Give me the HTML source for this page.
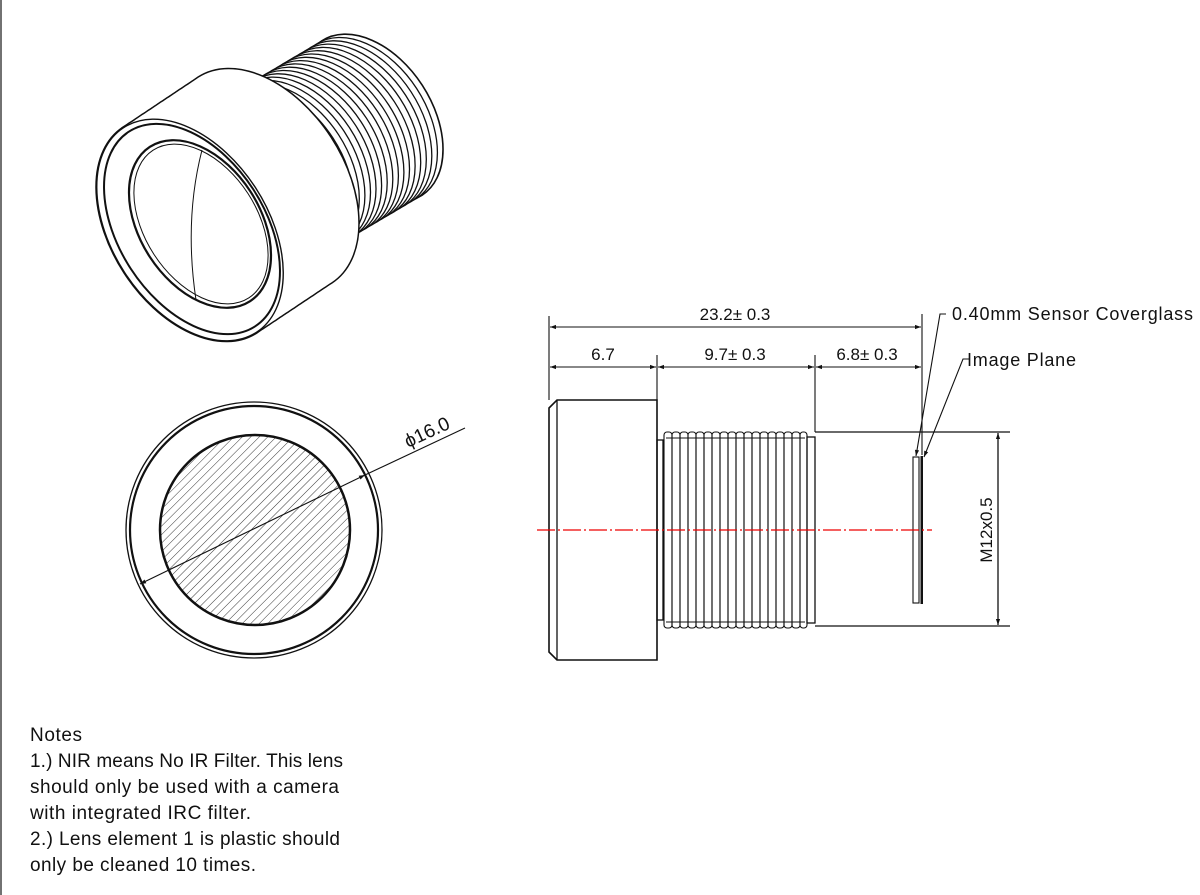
<!DOCTYPE html>
<html><head><meta charset="utf-8"><style>
html,body{margin:0;padding:0;background:#fff}
svg{display:block}
text{font-family:"Liberation Sans",sans-serif;fill:#111}
</style></head><body>
<svg width="1200" height="895" viewBox="0 0 1200 895" xmlns="http://www.w3.org/2000/svg" xmlns:xlink="http://www.w3.org/1999/xlink">
<defs>
<marker id="ar" viewBox="0 0 10 10" refX="10" refY="5" markerWidth="10" markerHeight="6" orient="auto-start-reverse" markerUnits="userSpaceOnUse"><path d="M0,1.5 L10,5 L0,8.5 z" fill="#111"/></marker>
<pattern id="hatch" patternUnits="userSpaceOnUse" width="6" height="6" patternTransform="rotate(45)"><line x1="0" y1="0" x2="0" y2="6" stroke="#222" stroke-width="0.9"/></pattern>
<clipPath id="cc"><circle cx="255" cy="530" r="95"/></clipPath>
<ellipse id="te" cx="0" cy="0" rx="60" ry="92" transform="rotate(-33)"/>
<ellipse id="be" cx="0" cy="0" rx="78" ry="122" transform="rotate(-33)"/>
</defs>
<line x1="1" y1="0" x2="1" y2="895" stroke="#444" stroke-width="1.5"/>

<!-- ISO VIEW threads (back to front) -->
<g fill="#fff" stroke="#111" stroke-width="1.3">
<use xlink:href="#te" transform="translate(372,118)" stroke-width="1.6"/>
<use xlink:href="#te" transform="translate(366.4,121.3)"/>
<use xlink:href="#te" transform="translate(360.8,124.6)"/>
<use xlink:href="#te" transform="translate(355.3,127.9)"/>
<use xlink:href="#te" transform="translate(349.7,131.2)"/>
<use xlink:href="#te" transform="translate(344.1,134.5)"/>
<use xlink:href="#te" transform="translate(338.5,137.8)"/>
<use xlink:href="#te" transform="translate(332.9,141.1)"/>
<use xlink:href="#te" transform="translate(327.4,144.4)"/>
<use xlink:href="#te" transform="translate(321.8,147.7)"/>
<use xlink:href="#te" transform="translate(316.2,151)"/>
<use xlink:href="#te" transform="translate(310.6,154.3)"/>
<use xlink:href="#te" transform="translate(305,157.6)"/>
<use xlink:href="#te" transform="translate(299.5,160.9)"/>
<use xlink:href="#te" transform="translate(293.9,164.2)"/>
<use xlink:href="#te" transform="translate(288.3,167.5)"/>
<use xlink:href="#te" transform="translate(282.7,170.8)"/>
<use xlink:href="#te" transform="translate(277.1,174.1)"/>
<use xlink:href="#te" transform="translate(271.6,177.4)"/>
</g>
<!-- body sweep -->
<g fill="#fff" stroke="#111" stroke-width="3">
<use xlink:href="#be" transform="translate(190,230)"/>
<use xlink:href="#be" transform="translate(196.25,225.83)"/>
<use xlink:href="#be" transform="translate(202.5,221.67)"/>
<use xlink:href="#be" transform="translate(208.75,217.5)"/>
<use xlink:href="#be" transform="translate(215,213.33)"/>
<use xlink:href="#be" transform="translate(221.25,209.17)"/>
<use xlink:href="#be" transform="translate(227.5,205)"/>
<use xlink:href="#be" transform="translate(233.75,200.83)"/>
<use xlink:href="#be" transform="translate(240,196.67)"/>
<use xlink:href="#be" transform="translate(246.25,192.5)"/>
<use xlink:href="#be" transform="translate(252.5,188.33)"/>
<use xlink:href="#be" transform="translate(258.75,184.17)"/>
<use xlink:href="#be" transform="translate(265,180)"/>
</g>
<g fill="#fff" stroke="none">
<use xlink:href="#be" transform="translate(190,230)"/>
<use xlink:href="#be" transform="translate(196.25,225.83)"/>
<use xlink:href="#be" transform="translate(202.5,221.67)"/>
<use xlink:href="#be" transform="translate(208.75,217.5)"/>
<use xlink:href="#be" transform="translate(215,213.33)"/>
<use xlink:href="#be" transform="translate(221.25,209.17)"/>
<use xlink:href="#be" transform="translate(227.5,205)"/>
<use xlink:href="#be" transform="translate(233.75,200.83)"/>
<use xlink:href="#be" transform="translate(240,196.67)"/>
<use xlink:href="#be" transform="translate(246.25,192.5)"/>
<use xlink:href="#be" transform="translate(252.5,188.33)"/>
<use xlink:href="#be" transform="translate(258.75,184.17)"/>
<use xlink:href="#be" transform="translate(265,180)"/>
</g>
<g fill="none" stroke="#111" stroke-width="1.4">
<use xlink:href="#be" transform="translate(190,230)"/>
<ellipse cx="192" cy="229" rx="73" ry="116" transform="rotate(-33 192 229)" stroke-width="2"/>
<ellipse cx="200" cy="224" rx="60" ry="92" transform="rotate(-33 200 224)" stroke-width="2.2"/>
<ellipse cx="201" cy="224" rx="56" ry="88" transform="rotate(-33 201 224)" stroke-width="1"/>
<path d="M202,150 Q184,220 196,300" stroke-width="1"/>
</g>

<!-- FRONT VIEW -->
<g fill="none" stroke="#111">
<circle cx="254" cy="530" r="128" stroke-width="1.3"/>
<circle cx="254" cy="530" r="124" stroke-width="2.2"/>
<rect x="150" y="425" width="210" height="210" fill="url(#hatch)" clip-path="url(#cc)" stroke="none"/>
<circle cx="255" cy="530" r="95" stroke-width="2.5"/>
<line x1="140" y1="584" x2="365" y2="475" stroke-width="1.1" marker-start="url(#ar)" marker-end="url(#ar)"/>
<line x1="365" y1="475" x2="465" y2="428" stroke-width="1.1"/>
</g>
<text x="408" y="448" font-size="19" transform="rotate(-25 408 448)">ϕ16.0</text>

<!-- SIDE VIEW -->
<g fill="none" stroke="#111" stroke-width="1.3">
<path d="M557,400 L657,400 L657,660 L557,660 L549,652 L549,408 Z" fill="#fff" stroke-width="1.6"/>
<line x1="557" y1="400" x2="557" y2="660"/>
<rect x="657" y="440" width="6" height="180"/>
<g stroke-width="1.1">
<rect x="664" y="432" width="8" height="196" rx="3"/>
<rect x="672" y="432" width="8" height="196" rx="3"/>
<rect x="680" y="432" width="8" height="196" rx="3"/>
<rect x="688" y="432" width="8" height="196" rx="3"/>
<rect x="696" y="432" width="8" height="196" rx="3"/>
<rect x="704" y="432" width="8" height="196" rx="3"/>
<rect x="712" y="432" width="8" height="196" rx="3"/>
<rect x="720" y="432" width="8" height="196" rx="3"/>
<rect x="728" y="432" width="8" height="196" rx="3"/>
<rect x="736" y="432" width="8" height="196" rx="3"/>
<rect x="744" y="432" width="8" height="196" rx="3"/>
<rect x="752" y="432" width="8" height="196" rx="3"/>
<rect x="760" y="432" width="8" height="196" rx="3"/>
<rect x="768" y="432" width="8" height="196" rx="3"/>
<rect x="776" y="432" width="8" height="196" rx="3"/>
<rect x="784" y="432" width="8" height="196" rx="3"/>
<rect x="792" y="432" width="8" height="196" rx="3"/>
<rect x="800" y="432" width="7" height="196" rx="3"/>
<line x1="666" y1="438" x2="805" y2="438"/>
<line x1="666" y1="622" x2="805" y2="622"/>
</g>
<rect x="807" y="437" width="8" height="186"/>
<line x1="815" y1="432" x2="1010" y2="432"/>
<line x1="815" y1="626" x2="1010" y2="626"/>
<line x1="998" y1="433" x2="998" y2="625" marker-start="url(#ar)" marker-end="url(#ar)"/>
<rect x="913" y="457" width="6" height="146" stroke-width="1.1"/>
<rect x="920.5" y="456" width="2.5" height="148" fill="#111" stroke="none"/>
</g>
<line x1="537" y1="530" x2="932" y2="530" stroke="#e00" stroke-width="1.2" stroke-dasharray="18,3,2,3"/>
<text x="992" y="530" font-size="17" text-anchor="middle" transform="rotate(-90 992 530)">M12x0.5</text>

<!-- dimensions -->
<g stroke="#111" stroke-width="1.1" fill="none">
<line x1="549" y1="316" x2="549" y2="400"/>
<line x1="657" y1="355" x2="657" y2="400"/>
<line x1="815" y1="355" x2="815" y2="432"/>
<line x1="922" y1="314" x2="922" y2="455"/>
<line x1="550" y1="327" x2="921" y2="327" marker-start="url(#ar)" marker-end="url(#ar)"/>
<line x1="550" y1="367" x2="656" y2="367" marker-start="url(#ar)" marker-end="url(#ar)"/>
<line x1="658" y1="367" x2="814" y2="367" marker-start="url(#ar)" marker-end="url(#ar)"/>
<line x1="816" y1="367" x2="921" y2="367" marker-start="url(#ar)" marker-end="url(#ar)"/>
<polyline points="946,314 940,314 916,456" marker-end="url(#ar)"/>
<polyline points="969,359 963,359 924,457" marker-end="url(#ar)"/>
</g>
<g font-size="17" text-anchor="middle">
<text x="735" y="320">23.2± 0.3</text>
<text x="603" y="360">6.7</text>
<text x="735" y="360">9.7± 0.3</text>
<text x="867" y="360">6.8± 0.3</text>
</g>
<text x="952" y="320" font-size="18" textLength="241">0.40mm Sensor Coverglass</text>
<text x="967" y="366" font-size="18" textLength="109">Image Plane</text>

<!-- notes -->
<g font-size="19">
<text x="30" y="741" textLength="52">Notes</text>
<text x="30" y="767" textLength="313">1.) NIR means No IR Filter. This lens</text>
<text x="30" y="793" textLength="309">should only be used with a camera</text>
<text x="30" y="819" textLength="221">with integrated IRC filter.</text>
<text x="30" y="845" textLength="310">2.) Lens element 1 is plastic should</text>
<text x="30" y="871" textLength="226">only be cleaned 10 times.</text>
</g>
</svg>
</body></html>
